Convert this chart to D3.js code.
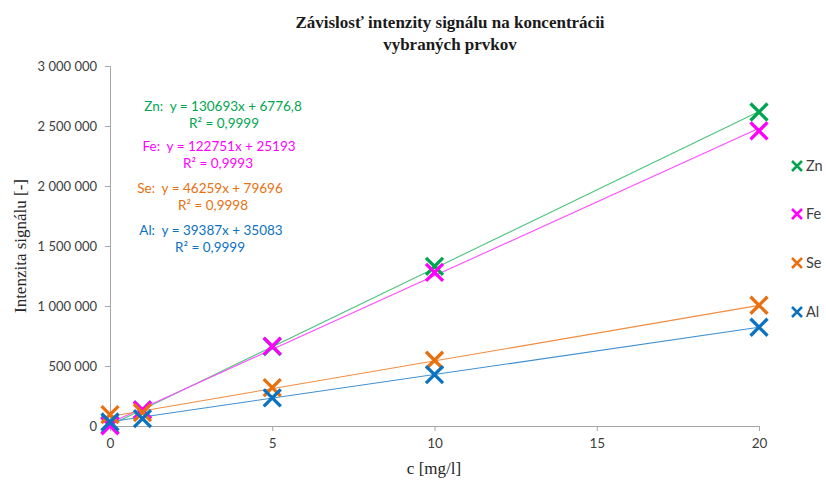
<!DOCTYPE html>
<html>
<head>
<meta charset="utf-8">
<script src="https://cdn.jsdelivr.net/npm/d3@7"></script>
<style>
  html, body { margin: 0; padding: 0; background: #fff; }
  svg { display: block; }
  .eq { white-space: pre; }
</style>
</head>
<body>
<svg id="chart" width="826" height="480"></svg>
<script>
// Concentrations (mg/l)
const concentrations = [0, 1, 5, 10, 20];

// Measured signal intensity per element
const elements = ["Zn", "Fe", "Se", "Al"];
const znValues = [8000, 135000, 662000, 1330000, 2617000];
const feValues = [2000, 133000, 665000, 1280000, 2460000];
const seValues = [95000, 112000, 320000, 548000, 1006000];
const alValues = [33000, 62000, 234000, 428000, 823000];

// Linear trendline parameters (y = slope * x + intercept)
const slopes = [130693, 122751, 46259, 39387];
const intercepts = [6776.8, 25193, 79696, 35083];
const equationLabels = [
  "Zn:  y = 130693x + 6776,8",
  "Fe:  y = 122751x + 25193",
  "Se:  y = 46259x + 79696",
  "Al:  y = 39387x + 35083"
];
const r2Labels = ["R² = 0,9999", "R² = 0,9993", "R² = 0,9998", "R² = 0,9999"];

// Axis ticks
const yTicks = [0, 500000, 1000000, 1500000, 2000000, 2500000, 3000000];
const xTicks = [0, 5, 10, 15, 20];

const markerColors = ["#00A550", "#FF00FF", "#E8700F", "#0B72C2"];
const lineColors = ["#4CC47E", "#FF4DFF", "#F08C40", "#4090D0"];

const seriesValues = [znValues, feValues, seValues, alValues];

const svg = d3.select("#chart");
const plot = { left: 110, right: 759, top: 66, bottom: 426 };

const x = d3.scaleLinear().domain([0, 20]).range([plot.left, plot.right]);
const y = d3.scaleLinear().domain([0, 3000000]).range([plot.bottom, plot.top]);

const locale = d3.formatLocale({ decimal: ",", thousands: " ", grouping: [3], currency: ["", ""] });
const fmt = locale.format(",d");

const tickFont = "Lato, 'Open Sans', sans-serif";
const axisColor = "#A6A6A6";

// Y axis
const yAxis = d3.axisLeft(y).tickValues(yTicks).tickFormat(fmt).tickSize(5).tickPadding(8);
const gy = svg.append("g").attr("transform", `translate(${plot.left},0)`).call(yAxis);
gy.select(".domain").attr("stroke", axisColor);
gy.selectAll(".tick line").attr("stroke", axisColor);
gy.selectAll(".tick text").attr("fill", "#404040").style("font-family", tickFont).style("font-size", "13px");

// X axis
const xAxis = d3.axisBottom(x).tickValues(xTicks).tickFormat(d3.format("d")).tickSize(5).tickPadding(7);
const gx = svg.append("g").attr("transform", `translate(0,${plot.bottom})`).call(xAxis);
gx.select(".domain").attr("stroke", axisColor);
gx.selectAll(".tick line").attr("stroke", axisColor);
gx.selectAll(".tick text").attr("fill", "#404040").style("font-family", tickFont).style("font-size", "13.5px");

// Trendlines
const trend = d3.line().x(d => x(d[0])).y(d => y(d[1]));
elements.forEach((el, i) => {
  const pts = [0, 20].map(c => [c, slopes[i] * c + intercepts[i]]);
  svg.append("path")
    .attr("d", trend(pts))
    .attr("fill", "none")
    .attr("stroke", lineColors[i])
    .attr("stroke-width", 1.1);
});

// Cross markers
function cross(g, cx, cy, r, color, w) {
  g.append("path")
    .attr("d", `M${cx - r},${cy - r}L${cx + r},${cy + r}M${cx - r},${cy + r}L${cx + r},${cy - r}`)
    .attr("stroke", color)
    .attr("stroke-width", w)
    .attr("fill", "none");
}

// Series drawn in order: Zn, Fe, Se, Al
elements.forEach((el, i) => {
  const g = svg.append("g");
  seriesValues[i].forEach((v, j) => cross(g, x(concentrations[j]), y(v), 8.5, markerColors[i], 3.3));
});

// Legend
const legendY = [166, 214, 263, 312];
elements.forEach((el, i) => {
  const g = svg.append("g");
  cross(g, 797, legendY[i], 5, markerColors[i], 2.5);
  g.append("text")
    .attr("x", 806).attr("y", legendY[i]).attr("dy", "0.35em")
    .attr("fill", "#404040")
    .style("font-family", tickFont).style("font-size", "14.5px")
    .text(el);
});

// Trendline equations
const eqY = [106, 146, 188, 230];
const eqX = [223, 219, 210, 211];
const r2X = [224, 218, 213, 210];
elements.forEach((el, i) => {
  svg.append("text")
    .attr("class", "eq")
    .attr("x", eqX[i]).attr("y", eqY[i]).attr("dy", "0.35em")
    .attr("text-anchor", "middle")
    .attr("fill", markerColors[i])
    .style("font-family", tickFont).style("font-size", "13.5px")
    .text(equationLabels[i]);
  svg.append("text")
    .attr("x", r2X[i]).attr("y", eqY[i] + 17).attr("dy", "0.35em")
    .attr("text-anchor", "middle")
    .attr("fill", markerColors[i])
    .style("font-family", tickFont).style("font-size", "13.5px")
    .text(r2Labels[i]);
});

// Title
const title = svg.append("text")
  .attr("text-anchor", "middle")
  .attr("fill", "#1a1a1a")
  .style("font-family", "'Liberation Serif', 'Times New Roman', serif")
  .style("font-weight", "bold")
  .style("font-size", "17px");
title.append("tspan").attr("x", 450).attr("y", 28).text("Závislosť intenzity signálu na koncentrácii");
title.append("tspan").attr("x", 450).attr("y", 50).text("vybraných prvkov");

// Axis titles
svg.append("text")
  .attr("x", 434).attr("y", 474)
  .attr("text-anchor", "middle")
  .attr("fill", "#262626")
  .style("font-family", "'Liberation Serif', 'Times New Roman', serif")
  .style("font-size", "17px")
  .text("c [mg/l]");

svg.append("text")
  .attr("transform", "translate(26,246) rotate(-90)")
  .attr("text-anchor", "middle")
  .attr("fill", "#262626")
  .style("font-family", "'Liberation Serif', 'Times New Roman', serif")
  .style("font-size", "17px")
  .text("Intenzita signálu [-]");
</script>
</body>
</html>
